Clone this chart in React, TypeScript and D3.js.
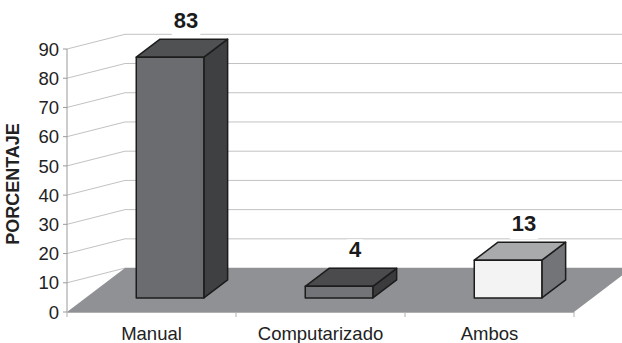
import React from "react";
import * as d3 from "d3";

const categories = ["Manual", "Computarizado", "Ambos"];
const values = [83, 4, 13];
const yTicks = [0, 10, 20, 30, 40, 50, 60, 70, 80, 90];
const axisTitle = "PORCENTAJE";

const W = 622;
const H = 343;
const FONT = "'Liberation Sans', Arial, Helvetica, sans-serif";

// colours per bar: front, top, side
const barColors = [
  { front: "#6b6c6f", top: "#505153", side: "#3f4042" },
  { front: "#737477", top: "#4b4b4d", side: "#3b3b3d" },
  { front: "#f3f3f3", top: "#a9aaac", side: "#737477" },
];

export default function App() {
  const x0 = 67;
  const x1 = 574;
  const depthX = 58;
  const depthY = -44;
  const t0 = 0.32;
  const t1 = 0.73;
  const wallDy = -14.7;

  const x = d3.scaleBand<string>().domain(categories).range([x0, x1]).padding(0);
  const y = d3.scaleLinear().domain([0, 90]).range([312, 49]);
  const h = d3.scaleLinear().domain([0, 90]).range([0, 261]);

  const bw = x.bandwidth() * 0.4;
  const floorY = y(0);
  const backLeftX = x0 + depthX;
  const backY0 = floorY + depthY;

  const floorPts = [
    [x0, floorY],
    [x1, floorY],
    [x1 + depthX, backY0],
    [backLeftX, backY0],
  ];

  const gridTicks = yTicks.filter((t) => t > 0);

  return (
    <svg
      width={W}
      height={H}
      style={{ position: "fixed", left: 0, top: 0, background: "#fff" }}
      fontFamily={FONT}
    >
      <rect x={0} y={0} width={W} height={H} fill="#fff" />
      {/* side wall diagonals and back wall gridlines */}
      {gridTicks.map((t) => {
        const fy = y(t);
        const by = fy + wallDy;
        return (
          <g key={"g" + t}>
            <line x1={x0} y1={fy} x2={backLeftX} y2={by} stroke="#c2c2c2" strokeWidth={1} />
            <line x1={backLeftX} y1={by} x2={x1 + depthX + 10} y2={by} stroke="#c2c2c2" strokeWidth={1} />
          </g>
        );
      })}
      {/* floor */}
      <polygon points={floorPts.map((p) => p.join(",")).join(" ")} fill="#909194" />
      {/* y axis */}
      <line x1={x0} y1={y(90)} x2={x0} y2={floorY} stroke="#9a9a9a" strokeWidth={1} />
      {yTicks.map((t) => (
        <g key={"t" + t}>
          <line x1={x0 - 4} y1={y(t)} x2={x0} y2={y(t)} stroke="#9a9a9a" strokeWidth={1} />
          <text
            x={59}
            y={y(t)}
            dy="0.36em"
            textAnchor="end"
            fontSize={18.5}
            fill="#222"
          >
            {t}
          </text>
        </g>
      ))}
      {/* x axis */}
      <line x1={x0} y1={floorY + 0.5} x2={x1} y2={floorY + 0.5} stroke="#b0b0b0" strokeWidth={1} />
      {[...categories.map((c) => x(c) as number), x1].map((px, i) => (
        <line key={"xt" + i} x1={px} y1={floorY} x2={px} y2={floorY + 5} stroke="#b0b0b0" strokeWidth={1} />
      ))}
      {categories.map((c) => (
        <text
          key={"c" + c}
          x={(x(c) as number) + x.bandwidth() / 2}
          y={340}
          textAnchor="middle"
          fontSize={18.5}
          fill="#222"
        >
          {c}
        </text>
      ))}
      <text
        transform={`translate(19,184) rotate(-90)`}
        textAnchor="middle"
        fontSize={18}
        fontWeight="bold"
        fill="#222"
      >
        {axisTitle}
      </text>
      {/* bars */}
      {categories.map((c, i) => {
        const v = values[i];
        const cx = (x(c) as number) + x.bandwidth() / 2;
        const fx = cx - bw / 2 + depthX * t0;
        const fyb = floorY + depthY * t0;
        const fyt = fyb - h(v);
        const ddx = depthX * (t1 - t0);
        const ddy = depthY * (t1 - t0);
        const col = barColors[i];
        const front = [
          [fx, fyt],
          [fx + bw, fyt],
          [fx + bw, fyb],
          [fx, fyb],
        ];
        const top = [
          [fx, fyt],
          [fx + ddx, fyt + ddy],
          [fx + bw + ddx, fyt + ddy],
          [fx + bw, fyt],
        ];
        const side = [
          [fx + bw, fyt],
          [fx + bw + ddx, fyt + ddy],
          [fx + bw + ddx, fyb + ddy],
          [fx + bw, fyb],
        ];
        const pts = (a: number[][]) => a.map((p) => p.join(",")).join(" ");
        return (
          <g key={"b" + c} stroke="#1c1c1c" strokeWidth={1.5} strokeLinejoin="round">
            <polygon points={pts(side)} fill={col.side} />
            <polygon points={pts(top)} fill={col.top} />
            <polygon points={pts(front)} fill={col.front} />
          </g>
        );
      })}
      {/* data labels */}
      {categories.map((c, i) => {
        const v = values[i];
        const cx = (x(c) as number) + x.bandwidth() / 2;
        const lx = cx + depthX * t0 + 16;
        const backTop = floorY + depthY * t1 - h(v);
        const base = backTop - 11;
        const label = String(v);
        const tw = label.length * 12.3;
        return (
          <g key={"l" + c}>
            <rect x={lx - tw / 2 - 2} y={base - 18} width={tw + 4} height={26} fill="#fff" />
            <text x={lx} y={base} textAnchor="middle" fontSize={22} fontWeight="bold" fill="#1a1a1a">
              {label}
            </text>
          </g>
        );
      })}
    </svg>
  );
}
